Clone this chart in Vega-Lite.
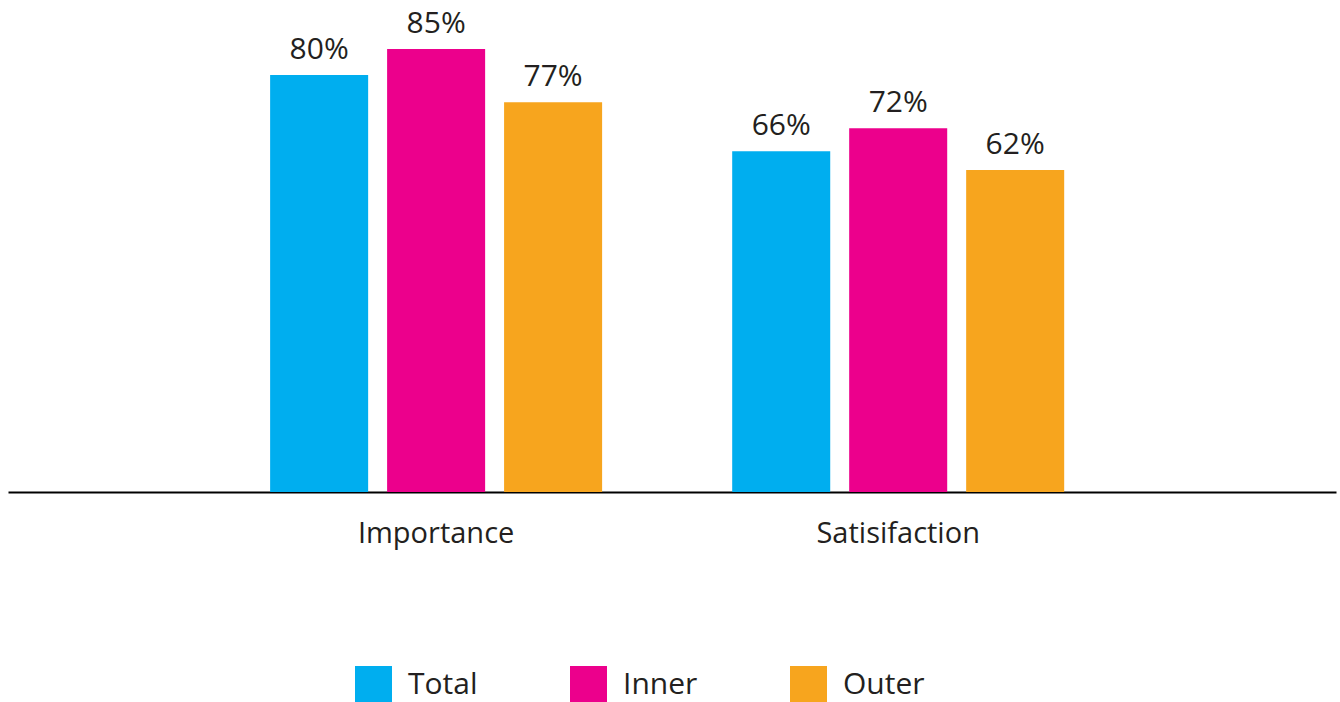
{
  "$schema": "https://vega.github.io/schema/vega-lite/v6.json",
  "width": 1328,
  "height": 469,
  "autosize": "none",
  "padding": {"left": 8, "top": 23, "right": 4, "bottom": 210},
  "config": {
    "view": {"stroke": null},
    "font": "Open Sans",
    "text": {"font": "Open Sans"}
  },
  "data": {
    "values": [
      {"category": "Importance", "series": "Total", "value": 0.80, "label": "80%"},
      {"category": "Importance", "series": "Inner", "value": 0.85, "label": "85%"},
      {"category": "Importance", "series": "Outer", "value": 0.748, "label": "77%"},
      {"category": "Satisifaction", "series": "Total", "value": 0.654, "label": "66%"},
      {"category": "Satisifaction", "series": "Inner", "value": 0.698, "label": "72%"},
      {"category": "Satisifaction", "series": "Outer", "value": 0.618, "label": "62%"}
    ]
  },
  "encoding": {
    "x": {
      "field": "category",
      "type": "nominal",
      "sort": ["Importance", "Satisifaction"],
      "scale": {"paddingInner": 0, "paddingOuter": 0.437, "align": 0.488},
      "axis": {
        "title": null,
        "domain": true,
        "domainColor": "#000000",
        "domainWidth": 2,
        "ticks": false,
        "labelAngle": 0,
        "labelFont": "Open Sans",
        "labelFontSize": 29,
        "labelColor": "#231F20",
        "labelPadding": 27
      }
    },
    "xOffset": {
      "field": "series",
      "type": "nominal",
      "sort": ["Total", "Inner", "Outer"],
      "scale": {"paddingInner": 0.162, "paddingOuter": 0.556}
    },
    "y": {
      "field": "value",
      "type": "quantitative",
      "scale": {"domain": [0, 0.9]},
      "axis": null
    }
  },
  "layer": [
    {
      "mark": {"type": "bar"},
      "encoding": {
        "color": {
          "field": "series",
          "type": "nominal",
          "sort": ["Total", "Inner", "Outer"],
          "scale": {"domain": ["Total", "Inner", "Outer"], "range": ["#00AEEF", "#EC008C", "#F7A51E"]},
          "legend": {
            "title": null,
            "orient": "none",
            "legendX": 347,
            "legendY": 643,
            "direction": "horizontal",
            "columns": 3,
            "symbolType": "square",
            "symbolSize": 1369,
            "symbolStrokeWidth": 0,
            "symbolOpacity": 1,
            "labelFont": "Open Sans",
            "labelFontSize": 30,
            "labelColor": "#231F20",
            "labelOffset": 16,
            "columnPadding": 92,
            "padding": 0
          }
        }
      }
    },
    {
      "mark": {"type": "text", "baseline": "alphabetic", "dy": -16, "fontSize": 30, "color": "#231F20", "font": "Open Sans"},
      "encoding": {
        "text": {"field": "label", "type": "nominal"},
        "xOffset": {"field": "series", "type": "nominal", "sort": ["Total", "Inner", "Outer"]}
      }
    }
  ]
}
